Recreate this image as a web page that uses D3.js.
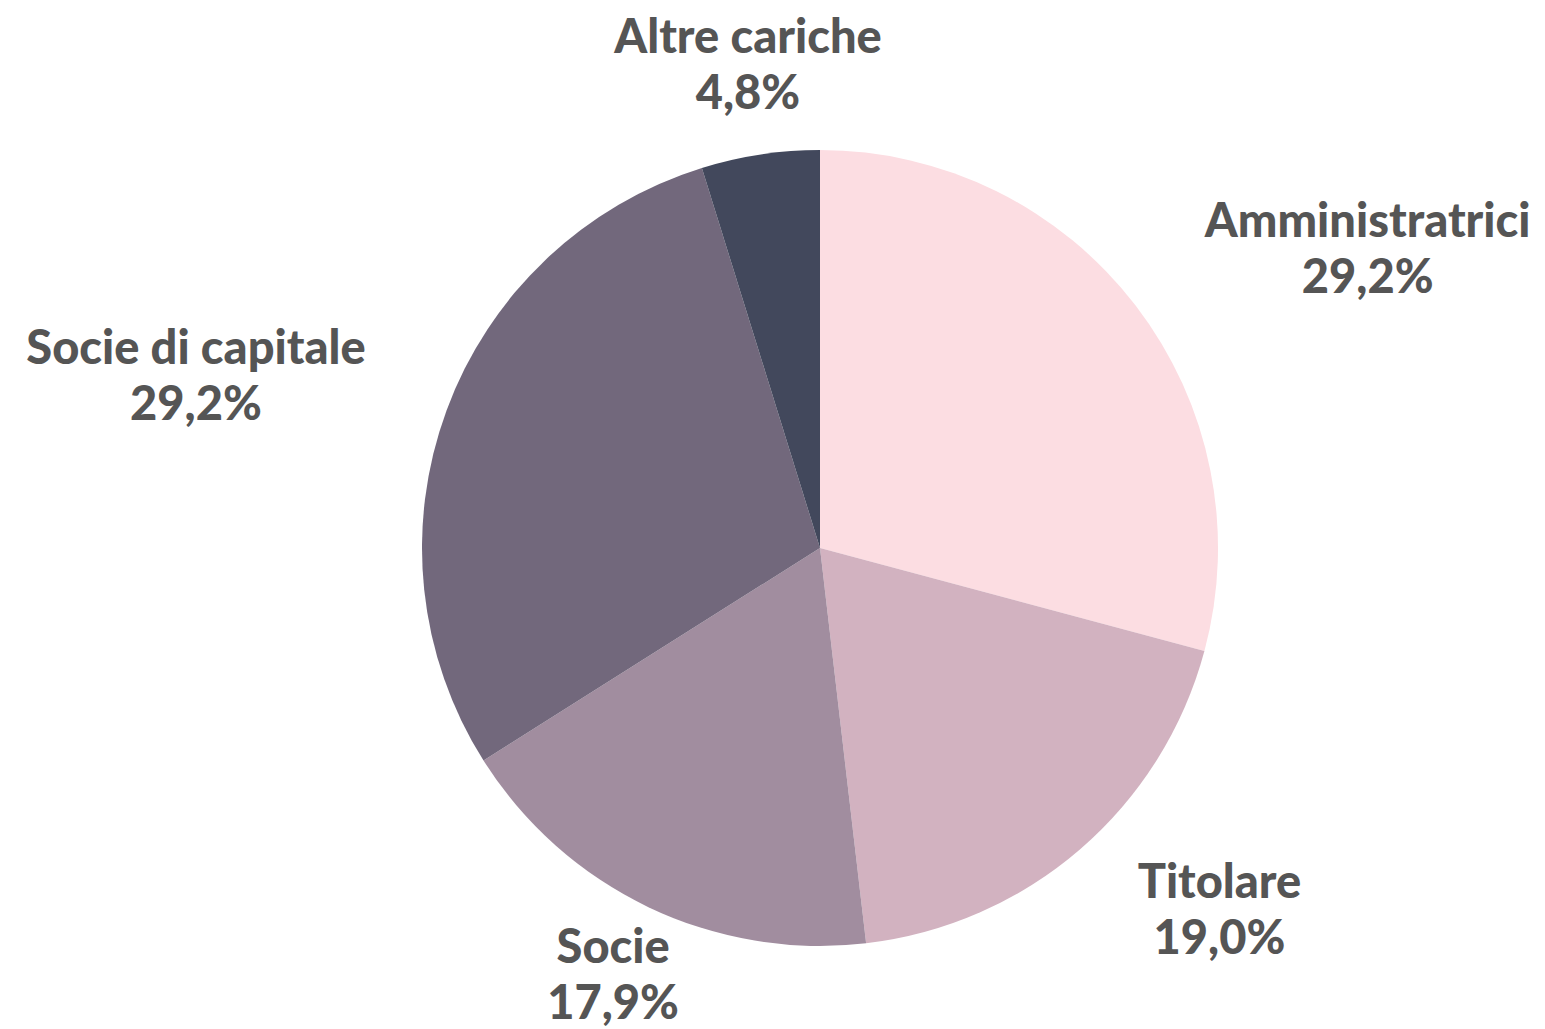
<!DOCTYPE html>
<html>
<head>
<meta charset="utf-8">
<script src="https://cdn.jsdelivr.net/npm/d3@7"></script>
<style>
  html, body { margin: 0; padding: 0; background: #ffffff; }
  svg { display: block; }
  text { font-family: "Lato", "Open Sans", sans-serif; font-weight: 900; fill: #555555; }
</style>
</head>
<body>
<svg id="chart" width="1545" height="1029"></svg>
<script>
const categories = ["Amministratrici", "Titolare", "Socie", "Socie di capitale", "Altre cariche"];
const values = [29.2, 19.0, 17.9, 29.2, 4.8];
const valueLabels = ["29,2%", "19,0%", "17,9%", "29,2%", "4,8%"];
const colors = ["#FCDDE2", "#D2B2C0", "#A18D9F", "#72687C", "#42485C"];

const W = 1545, H = 1029;
const cx = 820, cy = 548, R = 398, labelR = 480;
const fontSize = 47, lineGap = 56;

const svg = d3.select("#chart");
const g = svg.append("g").attr("transform", `translate(${cx},${cy})`);

const data = categories.map((c, i) => ({ cat: c, value: values[i], label: valueLabels[i], color: colors[i] }));
const pie = d3.pie().value(d => d.value).sort(null);
const arcs = pie(data);
const arc = d3.arc().innerRadius(0).outerRadius(R);

g.selectAll("path.slice")
  .data(arcs)
  .join("path")
  .attr("class", "slice")
  .attr("d", arc)
  .attr("fill", d => d.data.color);

const labels = g.selectAll("g.lbl")
  .data(arcs)
  .join("g")
  .attr("class", "lbl");

labels.each(function(d) {
  const sel = d3.select(this);
  const mid = (d.startAngle + d.endAngle) / 2;
  const s = Math.sin(mid), c = Math.cos(mid);
  const x = labelR * s, y = -labelR * c;
  const t1 = sel.append("text").attr("text-anchor", "middle").style("font-size", fontSize + "px").text(d.data.cat);
  const t2 = sel.append("text").attr("text-anchor", "middle").style("font-size", fontSize + "px").text(d.data.label);
  const w = Math.max(t1.node().getComputedTextLength(), t2.node().getComputedTextLength());
  let centerX;
  if (s > 0.5) centerX = x + 4 + w / 2;
  else if (s < -0.5) centerX = x - 4 - w / 2;
  else centerX = x;
  let base1 = y - 16.5 - 4.5 * c;
  // keep the last line (with its descender) inside the picture
  const maxBase2 = (H - cy) - 10;
  if (base1 + lineGap > maxBase2) base1 = maxBase2 - lineGap;
  t1.attr("x", centerX).attr("y", base1);
  t2.attr("x", centerX).attr("y", base1 + lineGap);
});
</script>
</body>
</html>
